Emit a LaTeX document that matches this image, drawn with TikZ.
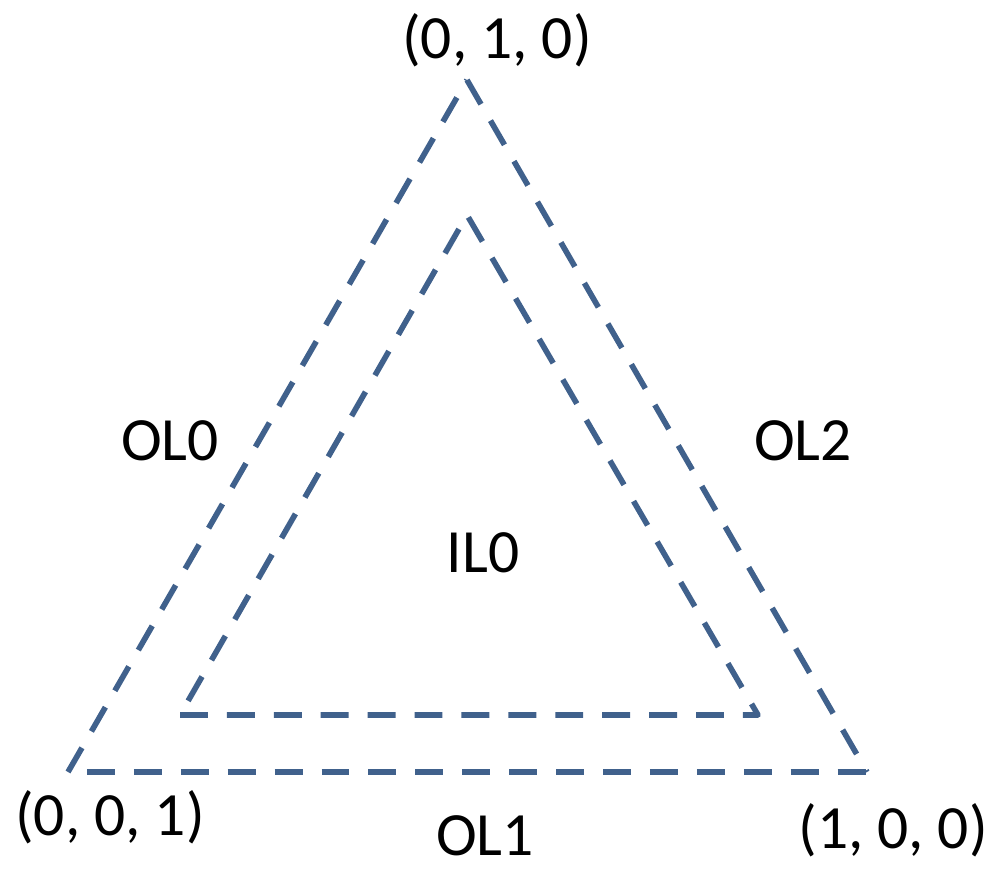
\documentclass[tikz,border=0pt]{standalone}
\usepackage{fontspec}
\setmainfont{Carlito}
\definecolor{lineBlue}{RGB}{64, 97, 140}

\begin{document}
\begin{tikzpicture}[x=0.02cm, y=-0.02cm,
    edge/.style={lineBlue, line width=3.2pt, dash pattern=on 15.9pt off 10.8pt},
    lab/.style={font=\fontsize{35}{40}\selectfont, inner sep=0pt}]
        \useasboundingbox (0,0) rectangle (997,871);
        % outer triangle
        \coordinate (top) at (467,80);
        \coordinate (bl) at (68,772);
        \coordinate (br) at (867,772);
        \coordinate (bls) at (87,772);
        \draw[edge] (bl) -- (top);
        \draw[edge] (top) -- (br);
        \draw[edge] (bls) -- (br);
        % inner triangle
        \coordinate (itop) at (467,215);
        \coordinate (ibl) at (180,715);
        \coordinate (ibr) at (758,715);
        \draw[edge, line join=round] (ibl) -- (ibr) -- (itop) -- cycle;
        % labels
        \node[lab] (p010) at (497,40) {(0, 1, 0)};
        \node[lab] (p001) at (110,817) {(0, 0, 1)};
        \node[lab] (p100) at (893,830) {(1, 0, 0)};
        \node[lab] (ol0) at (170,441) {OL0};
        \node[lab] (ol1) at (485,836) {OL1};
        \node[lab] (ol2) at (803,441) {OL2};
        \node[lab] (il0) at (483,553) {IL0};
      \end{tikzpicture}
\end{document}
